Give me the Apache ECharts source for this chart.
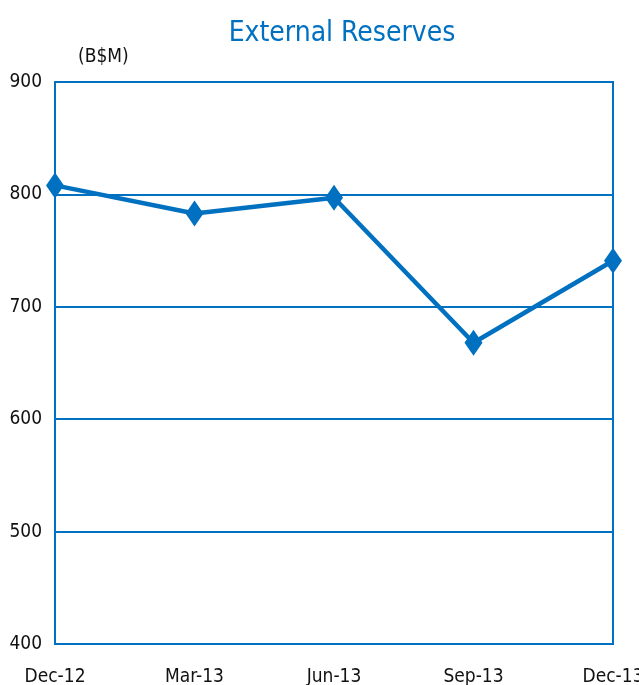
<!DOCTYPE html>
<html>
<head>
<meta charset="utf-8">
<script src="https://cdn.jsdelivr.net/npm/echarts@6/dist/echarts.min.js"></script>
<style>
  html, body { margin: 0; padding: 0; background: #fff; }
  #chart { width: 639px; height: 685px; }
</style>
</head>
<body>
<div id="chart"></div>
<script>
// data
var quarters = ['Dec-12', 'Mar-13', 'Jun-13', 'Sep-13', 'Dec-13'];
var reserves = [808, 783, 797, 668, 741];
var yTicks = [400, 500, 600, 700, 800, 900];

var blue = '#0070C0';
var font = "'Liberation Sans Narrow', 'Arial Narrow', 'DejaVu Sans Condensed', sans-serif";

var myChart = echarts.init(document.getElementById('chart'));
myChart.setOption({
    animation: false,
    title: {
        text: 'External Reserves',
        left: 337,
        top: 15,
        textAlign: 'center',
        textStyle: { color: blue, fontFamily: font, fontWeight: 'normal', fontSize: 28 }
    },
    graphic: [{
        type: 'text',
        left: 78,
        top: 48,
        style: { text: '(B$M)', fill: '#111', font: '19px ' + font }
    }],
    grid: {
        left: 55, right: 26, top: 82, bottom: 41,
        outerBoundsMode: 'none',
        show: true, borderColor: blue, borderWidth: 2
    },
    xAxis: {
        type: 'category',
        data: quarters,
        boundaryGap: false,
        axisLine: { show: false },
        axisTick: { show: false },
        splitLine: { show: false },
        axisLabel: { color: '#111', fontFamily: font, fontSize: 19, margin: 24, interval: 0 }
    },
    yAxis: {
        type: 'value',
        min: yTicks[0],
        max: yTicks[yTicks.length - 1],
        interval: 100,
        axisLine: { show: false },
        axisTick: { show: false },
        splitLine: { lineStyle: { color: blue, width: 2 } },
        axisLabel: { color: '#111', fontFamily: font, fontSize: 19, margin: 13 }
    },
    series: [{
        type: 'line',
        data: reserves,
        symbol: 'diamond',
        symbolSize: [18, 26],
        lineStyle: { color: blue, width: 4.5 },
        itemStyle: { color: blue },
        clip: false
    }]
});
</script>
</body>
</html>
